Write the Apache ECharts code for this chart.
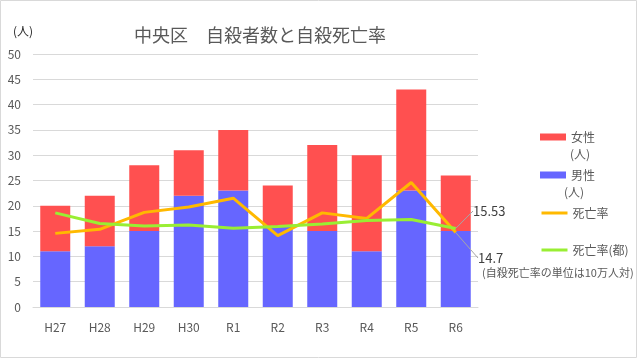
<!DOCTYPE html>
<html><head><meta charset="utf-8">
<script src="https://cdn.jsdelivr.net/npm/echarts@6/dist/echarts.min.js"></script>
<style>html,body{margin:0;padding:0;background:#fff}#c{width:642px;height:358px}</style>
</head><body><div id="c"></div>
<script>
const categories = ['H27','H28','H29','H30','R1','R2','R3','R4','R5','R6'];
const female = [9, 10, 13, 9, 12, 8, 17, 19, 20, 11];
const male = [11, 12, 15, 22, 23, 16, 15, 11, 23, 15];
const rate = [14.55, 15.35, 18.7, 19.76, 21.5, 14.1, 18.6, 17.5, 24.6, 14.7];
const rateTokyo = [18.6, 16.5, 16.0, 16.2, 15.55, 15.9, 16.4, 17.1, 17.3, 15.53];
const yTicks = [0, 5, 10, 15, 20, 25, 30, 35, 40, 45, 50];

const FONT = '"Noto Sans CJK JP", "Noto Sans", sans-serif';
const grey = '#595959';
const last = categories.length - 1;

function withLastLabel(arr) {
  return arr.map((v, i) => i === last ? {
    value: v,
    label: {show: true, formatter: String(v), color: '#404040', fontSize: 13, fontFamily: FONT}
  } : v);
}

const chart = echarts.init(document.getElementById('c'));
chart.setOption({
  animation: false,
  textStyle: {fontFamily: FONT},
  title: {
    text: '中央区　自殺者数と自殺死亡率',
    left: 255, top: 21, textAlign: 'center',
    textStyle: {fontSize: 18, fontWeight: 'normal', color: grey, fontFamily: FONT}
  },
  grid: {left: 33, right: 164, top: 54, bottom: 51, containLabel: false},
  xAxis: {
    type: 'category', data: categories,
    axisLine: {lineStyle: {color: '#d9d9d9'}},
    axisTick: {show: false},
    axisLabel: {color: grey, fontSize: 12, margin: 14, fontFamily: FONT}
  },
  yAxis: {
    type: 'value', min: yTicks[0], max: yTicks[yTicks.length - 1], interval: 5,
    axisLine: {show: false}, axisTick: {show: false},
    axisLabel: {color: grey, fontSize: 12, margin: 12, fontFamily: FONT},
    splitLine: {lineStyle: {color: '#d9d9d9'}}
  },
  legend: [
    {data: [{name: '女性', icon: 'rect'}], left: 535, top: 126, itemWidth: 26, itemHeight: 7, itemGap: 4,
     textStyle: {color: grey, fontSize: 12, fontFamily: FONT}},
    {data: [{name: '男性', icon: 'rect'}], left: 535, top: 164, itemWidth: 26, itemHeight: 7, itemGap: 4,
     textStyle: {color: grey, fontSize: 12, fontFamily: FONT}},
    {data: [{name: '死亡率'}], left: 535, top: 202, itemWidth: 26, itemHeight: 14, itemGap: 4,
     itemStyle: {opacity: 0}, lineStyle: {width: 3},
     textStyle: {color: grey, fontSize: 12, fontFamily: FONT}},
    {data: [{name: '死亡率(都)'}], left: 535, top: 239, itemWidth: 26, itemHeight: 14, itemGap: 4,
     itemStyle: {opacity: 0}, lineStyle: {width: 3},
     textStyle: {color: grey, fontSize: 12, fontFamily: FONT}}
  ],
  graphic: [
    {type: 'rect', shape: {x: 0.5, y: 0.5, width: 636, height: 357}, style: {fill: 'none', stroke: '#d9d9d9', lineWidth: 1}, silent: true},
    {type: 'text', left: 13, top: 25, style: {text: '(人)', fill: '#262626', fontSize: 12, fontFamily: FONT}},
    {type: 'text', left: 570, top: 148, style: {text: '(人)', fill: grey, fontSize: 12, fontFamily: FONT}},
    {type: 'text', left: 564, top: 186, style: {text: '(人)', fill: grey, fontSize: 12, fontFamily: FONT}},
    {type: 'text', left: 482, top: 267, style: {text: '(自殺死亡率の単位は10万人対)', fill: grey, fontSize: 11, fontFamily: FONT}}
  ],
  series: [
    {name: '男性', type: 'bar', stack: 'p', data: male, barWidth: 30,
     itemStyle: {color: '#6666FF'}},
    {name: '女性', type: 'bar', stack: 'p', data: female, barWidth: 30,
     itemStyle: {color: '#FF5050'}},
    {name: '死亡率', type: 'line', data: withLastLabel(rate),
     label: {show: false},
     labelLine: {show: true, lineStyle: {color: '#a6a6a6', width: 1}},
     labelLayout: {x: 478, y: 258, align: 'left', verticalAlign: 'middle'},
     symbol: 'circle', symbolSize: 0, showSymbol: true, lineStyle: {color: '#FFB900', width: 3}, itemStyle: {color: '#FFB900'}, z: 3},
    {name: '死亡率(都)', type: 'line', data: withLastLabel(rateTokyo),
     label: {show: false},
     labelLine: {show: true, lineStyle: {color: '#a6a6a6', width: 1}},
     labelLayout: {x: 473, y: 211, align: 'left', verticalAlign: 'middle'},
     symbol: 'circle', symbolSize: 0, showSymbol: true, lineStyle: {color: '#99EE33', width: 3}, itemStyle: {color: '#99EE33'}, z: 4}
  ]
});
</script></body></html>
